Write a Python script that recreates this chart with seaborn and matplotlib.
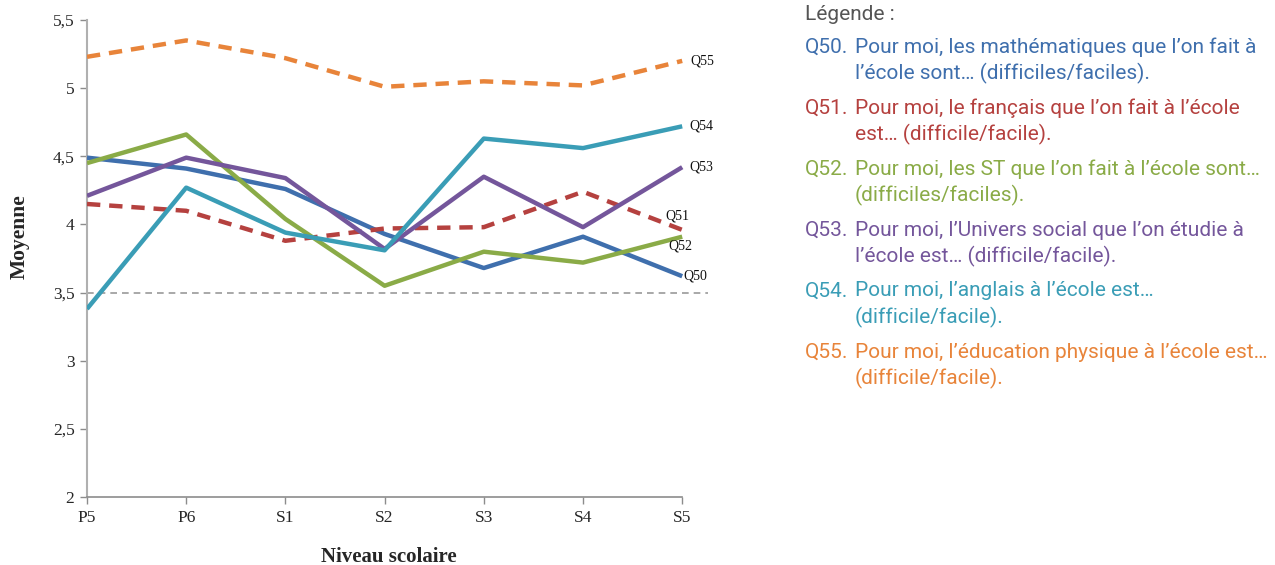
import matplotlib
matplotlib.use("Agg")
import matplotlib.pyplot as plt
import seaborn as sns
import pandas as pd
import numpy as np

levels = ["P5", "P6", "S1", "S2", "S3", "S4", "S5"]
q50 = [4.49, 4.41, 4.26, 3.93, 3.68, 3.91, 3.62]
q51 = [4.15, 4.10, 3.88, 3.97, 3.98, 4.24, 3.96]
q52 = [4.45, 4.66, 4.04, 3.55, 3.80, 3.72, 3.91]
q53 = [4.21, 4.49, 4.34, 3.82, 4.35, 3.98, 4.42]
q54 = [3.38, 4.27, 3.94, 3.81, 4.63, 4.56, 4.72]
q55 = [5.23, 5.35, 5.22, 5.01, 5.05, 5.02, 5.20]
series_names = ["Q50", "Q51", "Q52", "Q53", "Q54", "Q55"]
legend_texts = [
    ["Pour moi, les mathématiques que l’on fait à", "l’école sont… (difficiles/faciles)."],
    ["Pour moi, le français que l’on fait à l’école", "est… (difficile/facile)."],
    ["Pour moi, les ST que l’on fait à l’école sont…", "(difficiles/faciles)."],
    ["Pour moi, l’Univers social que l’on étudie à", "l’école est… (difficile/facile)."],
    ["Pour moi, l’anglais à l’école est…", "(difficile/facile)."],
    ["Pour moi, l’éducation physique à l’école est…", "(difficile/facile)."],
]
threshold = 3.5

colors = ["#3f6fad", "#b5413f", "#8aab47", "#74569b", "#3a9db6", "#e8843a"]
dashed = [False, True, False, False, False, True]
label_offsets = [(1, 0), (-12, 10), (-10, -7), (5, 0), (5, 0), (6, 0)]

sns.set_style("white")
W, H = 1275, 565
fig = plt.figure(figsize=(W / 100, H / 100), dpi=100)
ax = fig.add_axes([87 / W, 1 - 497 / H, (708 - 87) / W, (497 - 20) / H])

data = [q50, q51, q52, q53, q54, q55]
xpos = np.arange(len(levels))
for name, vals, col, d in zip(series_names, data, colors, dashed):
    df = pd.DataFrame({"x": xpos, "y": vals})
    sns.lineplot(data=df, x="x", y="y", ax=ax, color=col, lw=3.2,
                 linestyle=(0, (3.0, 2.0)) if d else "-",
                 solid_capstyle="butt", dash_capstyle="butt", zorder=3)

ax.axhline(threshold, color="#999999", lw=1.2, ls=(0, (4, 3)), zorder=1)

ax.set_xlim(0, 6.26)
ax.set_ylim(2, 5.5)
ax.set_xticks(xpos)
ax.set_xticklabels(levels)
yt = np.arange(2, 5.51, 0.5)
ax.set_yticks(yt)
ax.set_yticklabels([("%g" % v).replace(".", ",") for v in yt])

for s in ["top", "right"]:
    ax.spines[s].set_visible(False)
ax.spines["left"].set_color("#b0b0b0")
ax.spines["bottom"].set_color("#8c8c8c")
ax.spines["left"].set_linewidth(1.5)
ax.spines["bottom"].set_linewidth(1.2)
ax.spines["bottom"].set_bounds(0, 6)
ax.tick_params(axis="both", direction="out", length=5, width=1, color="#8c8c8c",
               labelsize=12.5, pad=4, left=True, bottom=True)
for lab in ax.get_xticklabels() + ax.get_yticklabels():
    lab.set_fontfamily("Liberation Serif")
ax.set_xlabel("Niveau scolaire", fontfamily="Liberation Serif", fontweight="bold",
              fontsize=15)
ax.set_ylabel("Moyenne", fontfamily="Liberation Serif", fontweight="bold",
              fontsize=15.5)
ax.xaxis.set_label_coords((389 - 87) / (708 - 87), -(557 - 497) / (497 - 20))
ax.xaxis.label.set_va("center")
ax.yaxis.set_label_coords(-(87 - 20) / (708 - 87), (497 - 237) / (497 - 20))
ax.yaxis.label.set_va("center")
ax.grid(False)

for name, vals, off in zip(series_names, data, label_offsets):
    ax.annotate(name, xy=(xpos[-1], vals[-1]), xytext=off, textcoords="offset points",
                ha="left", va="center", fontsize=10, fontfamily="Liberation Serif",
                color="#111111", annotation_clip=False)

# Legend panel
fs = 15
fig.text(805 / W, 1 - 15 / H, "Légende :", fontfamily="Roboto", fontsize=fs,
         color="#555555", ha="left", va="center")
y0 = 47
for i, (name, lines, col) in enumerate(zip(series_names, legend_texts, colors)):
    yy = y0 + i * 61
    fig.text(805 / W, 1 - yy / H, name + ".", fontfamily="Roboto", fontsize=fs,
             color=col, ha="left", va="center")
    fig.text(855 / W, 1 - yy / H, lines[0], fontfamily="Roboto", fontsize=fs,
             color=col, ha="left", va="center")
    fig.text(855 / W, 1 - (yy + 26) / H, lines[1], fontfamily="Roboto", fontsize=fs,
             color=col, ha="left", va="center")

fig.savefig("out.png", dpi=100, facecolor="white")
